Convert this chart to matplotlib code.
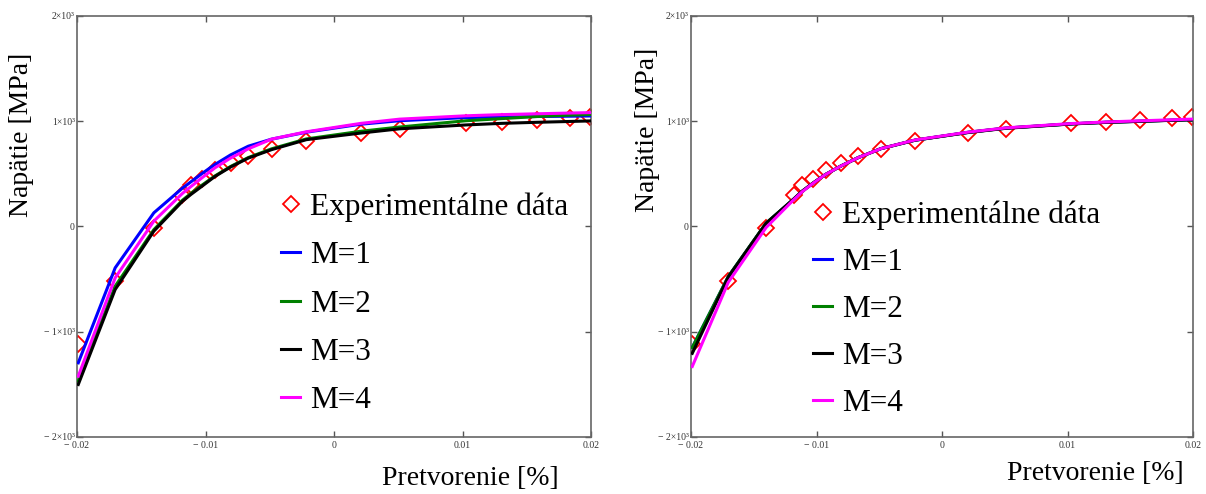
import matplotlib
matplotlib.use("Agg")
import matplotlib.pyplot as plt
from matplotlib.ticker import FixedLocator, FixedFormatter

# ---------------- data ----------------
strain = [-0.0199, -0.01703, -0.01402, -0.01179, -0.01113, -0.01025, -0.00927,
          -0.00805, -0.00667, -0.00486, -0.00215, 0.00210, 0.00510, 0.01028,
          0.01304, 0.01578, 0.01836, 0.01990]
exp_stress = [-1115, -515, -10, 298, 390, 453, 540, 605, 668, 740, 812, 890,
              928, 979, 995, 1010, 1033, 1042]

# left panel models
left_m1 = [-1295, -393, 130, 365, 425, 505, 589, 680, 763, 830, 896, 972,
           1005, 1035, 1040, 1045, 1048, 1050]
left_m2 = [-1470, -567, -30, 250, 315, 395, 480, 570, 655, 738, 832, 905,
           945, 1005, 1025, 1045, 1058, 1064]
left_m3 = [-1501, -599, -44, 240, 305, 385, 475, 565, 650, 730, 825, 888,
           928, 965, 980, 990, 998, 1003]
left_m4 = [-1422, -488, 51, 315, 380, 465, 557, 650, 738, 830, 900, 980,
           1020, 1052, 1063, 1071, 1078, 1082]

# right panel models
right_m1 = [-1150, -478, 30, 262, 335, 415, 495, 575, 655, 740, 820, 895,
            935, 975, 990, 1000, 1010, 1015]
right_m2 = [-1150, -475, 32, 262, 335, 415, 495, 575, 655, 740, 820, 895,
            935, 975, 990, 1000, 1010, 1015]
right_m3 = [-1205, -480, 30, 265, 337, 415, 495, 575, 655, 740, 820, 893,
            933, 974, 989, 999, 1009, 1014]
right_m4 = [-1330, -530, -10, 258, 332, 413, 495, 575, 655, 740, 822, 897,
            937, 978, 993, 1004, 1014, 1020]

x_ticks = [-0.02, -0.01, 0.0, 0.01, 0.02]
x_tick_labels = ["\u2212 0.02", "\u2212 0.01", "0", "0.01", "0.02"]
y_ticks = [-2000, -1000, 0, 1000, 2000]
y_tick_labels = ["\u2212 2\u00d710\u00b3", "\u2212 1\u00d710\u00b3", "0",
                 "1\u00d710\u00b3", "2\u00d710\u00b3"]

series_labels = ["M=1", "M=2", "M=3", "M=4"]
series_colors = ["#0000ff", "#008000", "#000000", "#ff00ff"]
exp_label = "Experimentálne dáta"
xlabel = "Pretvorenie [%]"
ylabel = "Napätie [MPa]"

# ---------------- figure ----------------
plt.rcParams['font.family'] = ['Liberation Serif', 'DejaVu Serif']
fig = plt.figure(figsize=(12.06, 4.94), dpi=100)

W, H = 1206, 494
def axrect(x0, x1, ytop, ybot):
    return [x0 / W, 1 - ybot / H, (x1 - x0) / W, (ybot - ytop) / H]

ax1 = fig.add_axes(axrect(77, 591, 16, 437))
ax2 = fig.add_axes(axrect(691, 1193, 16, 437))

def style(ax):
    ax.set_xlim(-0.02, 0.02)
    ax.set_ylim(-2000, 2000)
    ax.xaxis.set_major_locator(FixedLocator(x_ticks))
    ax.xaxis.set_major_formatter(FixedFormatter(x_tick_labels))
    ax.yaxis.set_major_locator(FixedLocator(y_ticks))
    ax.yaxis.set_major_formatter(FixedFormatter(y_tick_labels))
    ax.tick_params(direction='in', length=4, width=1, color='#555555',
                   top=True, right=True, labelsize=7, labelcolor='#333333')
    ax.tick_params(axis='x', pad=3)
    ax.tick_params(axis='y', pad=1.5)
    for s in ax.spines.values():
        s.set_color('#666666')
        s.set_linewidth(1.2)

def draw(ax, models, leg_anchor, spacing):
    style(ax)
    he, = ax.plot(strain, exp_stress, linestyle='none', marker='D',
                  markersize=8, markerfacecolor='none', markeredgecolor='red',
                  markeredgewidth=1.3, label=exp_label, zorder=2)
    hs = []
    for vals, lab, col in zip(models, series_labels, series_colors):
        h, = ax.plot(strain, vals, color=col, lw=2.2, label=lab, zorder=3)
        hs.append(h)
    leg = ax.legend([he] + hs, [exp_label] + series_labels, loc='upper left',
                    bbox_to_anchor=leg_anchor, frameon=False, fontsize=22.5,
                    handlelength=0.62, handletextpad=0.3,
                    labelspacing=spacing, borderpad=0, borderaxespad=0)
    return leg

draw(ax1, [left_m1, left_m2, left_m3, left_m4], (0.397, 0.581), 0.62)
draw(ax2, [right_m1, right_m2, right_m3, right_m4], (0.243, 0.561), 0.57)

fig.text(22 / W, 1 - 135 / H, ylabel, rotation=90, fontsize=20,
         ha='center', va='center')
fig.text(648 / W, 1 - 130 / H, ylabel, rotation=90, fontsize=20,
         ha='center', va='center')
fig.text(470 / W, 1 - 478 / H, xlabel, fontsize=20, ha='center', va='center')
fig.text(1095 / W, 1 - 473 / H, xlabel, fontsize=20, ha='center', va='center')

fig.savefig("out.png", dpi=100)
